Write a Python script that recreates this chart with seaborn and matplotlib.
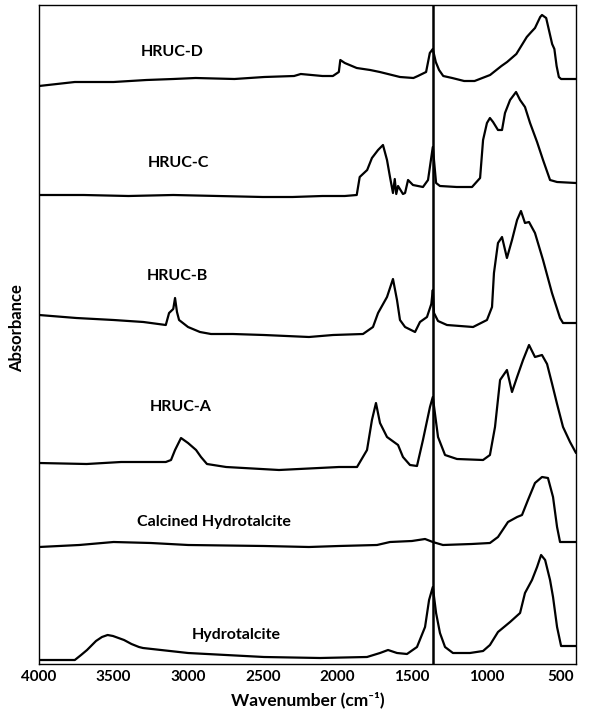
import matplotlib
matplotlib.use("Agg")
import matplotlib.pyplot as plt
import seaborn as sns
import pandas as pd

# ---------------- data (wavenumber in cm-1, stacked absorbance, a.u.) ----------------
hrucd_w = [4000, 3760, 3500, 3280, 3100, 2950, 2690, 2490, 2290, 2245, 2100, 2030, 1990, 1980, 1950,
           1870, 1780, 1715, 1580, 1490, 1460, 1405, 1380, 1360, 1340, 1318, 1290, 1230, 1150, 1080,
           976, 900, 862, 800, 730, 700, 675, 640, 628, 600, 560, 545, 530, 515, 500, 400]
hrucd_a = [5.78, 5.82, 5.82, 5.84, 5.85, 5.86, 5.85, 5.87, 5.88, 5.90, 5.88, 5.88, 5.92, 6.04, 6.01,
           5.96, 5.94, 5.92, 5.87, 5.86, 5.88, 5.92, 6.11, 6.15, 6.02, 5.94, 5.88, 5.86, 5.83, 5.83,
           5.89, 5.98, 6.02, 6.10, 6.27, 6.32, 6.36, 6.47, 6.49, 6.46, 6.20, 6.15, 5.98, 5.87, 5.85, 5.85]

hrucc_w = [4000, 3700, 3400, 3100, 2800, 2500, 2300, 2100, 1950, 1870, 1850, 1800, 1768, 1727, 1694,
           1667, 1647, 1627, 1615, 1605, 1593, 1560, 1546, 1526, 1493, 1426, 1392, 1360, 1338, 1312,
           1200, 1097, 1043, 1023, 997, 977, 956, 923, 896, 876, 842, 802, 775, 742, 708, 661, 621,
           574, 527, 400]
hrucc_a = [4.69, 4.69, 4.68, 4.69, 4.68, 4.67, 4.67, 4.68, 4.68, 4.69, 4.87, 4.94, 5.06, 5.14, 5.19,
           5.04, 4.87, 4.71, 4.85, 4.70, 4.78, 4.70, 4.71, 4.84, 4.79, 4.77, 4.84, 5.17, 4.81, 4.78,
           4.77, 4.77, 4.86, 5.24, 5.41, 5.46, 5.42, 5.34, 5.34, 5.51, 5.64, 5.72, 5.64, 5.57, 5.41,
           5.22, 5.04, 4.84, 4.82, 4.81]

hrucb_w = [4000, 3750, 3500, 3300, 3150, 3128, 3100, 3088, 3075, 3061, 3001, 2921, 2847, 2700, 2492,
           2190, 2029, 1828, 1761, 1727, 1667, 1627, 1600, 1580, 1546, 1479, 1446, 1399, 1370, 1360,
           1352, 1325, 1265, 1090, 997, 963, 950, 923, 896, 863, 829, 795, 769, 742, 715, 675, 621,
           561, 507, 487, 400]
hrucb_a = [3.49, 3.46, 3.44, 3.42, 3.39, 3.51, 3.55, 3.66, 3.52, 3.44, 3.37, 3.32, 3.30, 3.30, 3.29,
           3.27, 3.29, 3.30, 3.37, 3.51, 3.67, 3.85, 3.64, 3.44, 3.37, 3.32, 3.42, 3.47, 3.60, 3.74,
           3.51, 3.43, 3.39, 3.37, 3.44, 3.57, 3.91, 4.21, 4.27, 4.06, 4.24, 4.44, 4.53, 4.41, 4.42,
           4.31, 4.04, 3.71, 3.46, 3.41, 3.41]

hruca_w = [4000, 3680, 3450, 3150, 3115, 3088, 3048, 3001, 2947, 2914, 2874, 2746, 2391, 1989, 1868,
           1801, 1768, 1741, 1714, 1667, 1593, 1560, 1513, 1466, 1426, 1379, 1360, 1325, 1278, 1198,
           1023, 977, 943, 909, 863, 829, 795, 755, 715, 675, 628, 594, 560, 527, 487, 440, 400]
hruca_a = [2.01, 2.00, 2.02, 2.02, 2.04, 2.14, 2.26, 2.21, 2.14, 2.07, 2.00, 1.97, 1.94, 1.97, 1.97,
           2.14, 2.44, 2.61, 2.41, 2.27, 2.19, 2.07, 1.99, 1.98, 2.24, 2.57, 2.67, 2.27, 2.09, 2.05,
           2.04, 2.09, 2.37, 2.84, 2.94, 2.72, 2.87, 3.04, 3.19, 3.07, 3.09, 3.00, 2.80, 2.60, 2.37,
           2.22, 2.11]

calc_w = [4000, 3730, 3500, 3250, 3000, 2490, 2190, 1990, 1734, 1647, 1500, 1412, 1360, 1292, 1100,
          977, 923, 856, 795, 762, 722, 675, 628, 588, 554, 527, 507, 400]
calc_a = [1.17, 1.19, 1.22, 1.21, 1.19, 1.18, 1.17, 1.18, 1.19, 1.22, 1.23, 1.25, 1.22, 1.19, 1.20,
          1.21, 1.27, 1.42, 1.47, 1.49, 1.64, 1.81, 1.87, 1.86, 1.67, 1.37, 1.22, 1.22]

hydro_w = [4000, 3760, 3718, 3678, 3658, 3618, 3578, 3540, 3504, 3430, 3380, 3330, 3303, 3001, 2492,
           2116, 1801, 1714, 1660, 1600, 1533, 1466, 1412, 1385, 1360, 1338, 1312, 1278, 1225, 1111,
           1023, 977, 923, 842, 775, 742, 695, 661, 634, 607, 574, 554, 527, 500, 400]
hydro_a = [0.04, 0.04, 0.09, 0.14, 0.17, 0.23, 0.27, 0.29, 0.28, 0.24, 0.20, 0.17, 0.16, 0.11, 0.07,
           0.06, 0.07, 0.11, 0.14, 0.11, 0.10, 0.17, 0.37, 0.64, 0.77, 0.51, 0.31, 0.17, 0.11, 0.11,
           0.13, 0.19, 0.32, 0.42, 0.51, 0.71, 0.84, 0.97, 1.09, 1.04, 0.84, 0.67, 0.37, 0.18, 0.18]

series_names = ["HRUC-D", "HRUC-C", "HRUC-B", "HRUC-A", "Calcined Hydrotalcite", "Hydrotalcite"]
series_w = [hrucd_w, hrucc_w, hrucb_w, hruca_w, calc_w, hydro_w]
series_a = [hrucd_a, hrucc_a, hrucb_a, hruca_a, calc_a, hydro_a]
label_w = [3108, 3068, 3075, 3048, 2827, 2679]
label_a = [6.12, 5.01, 3.88, 2.57, 1.42, 0.29]

marker_line = 1360
x_ticks = [4000, 3500, 3000, 2500, 2000, 1500, 1000, 500]

# ---------------- plotting ----------------
sns.set_style("white")
plt.rcParams["font.family"] = ["Lato", "DejaVu Sans"]

fig = plt.figure(figsize=(5.9, 7.15), dpi=100)
ax = fig.add_axes([39 / 590, 51 / 715, 537 / 590, 659 / 715])

for name, w, a in zip(series_names, series_w, series_a):
    df = pd.DataFrame({"w": w, "a": a})
    sns.lineplot(data=df, x="w", y="a", color="black", linewidth=1.6,
                 sort=False, estimator=None, ax=ax)

ax.axvline(marker_line, color="black", linewidth=1.8)

for name, lw_, la_ in zip(series_names, label_w, label_a):
    ax.text(lw_, la_, name, ha="center", va="center", fontsize=11.5,
            fontweight="bold", color="black")

ax.set_xlim(4000, 400)
ax.set_ylim(0, 6.59)
ax.set_xticks(x_ticks)
ax.set_xticklabels([str(t) for t in x_ticks])
ax.set_yticks([])
ax.tick_params(axis="x", direction="in", length=3, width=1, pad=4,
               labelsize=11, colors="black")
for lab in ax.get_xticklabels():
    lab.set_fontweight("bold")

for sp in ax.spines.values():
    sp.set_color("black")
    sp.set_linewidth(1.0)

ax.set_xlabel("Wavenumber (cm⁻¹)", fontsize=12.5, fontweight="bold", color="black")
ax.set_ylabel("Absorbance", fontsize=12, fontweight="bold", color="black")
ax.xaxis.set_label_coords(0.5, -0.042)
ax.yaxis.set_label_coords(-0.026, 0.51)

fig.savefig("out.png", dpi=100)
